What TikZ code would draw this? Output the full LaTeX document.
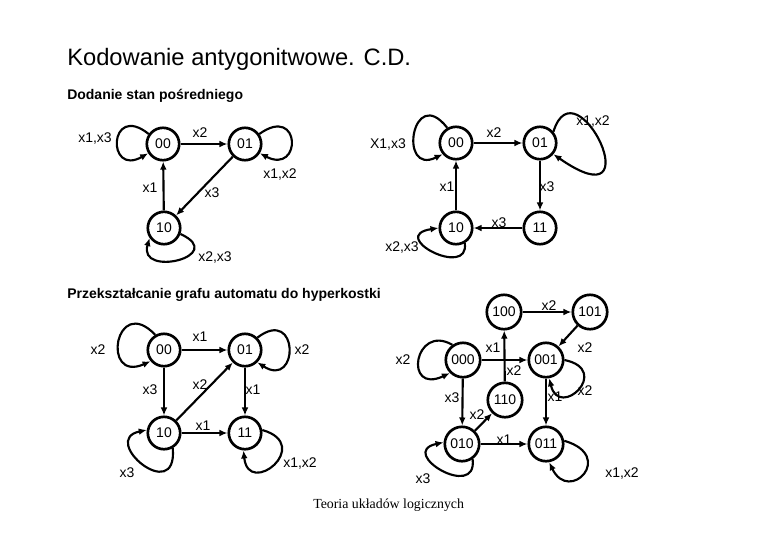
\documentclass[tikz,border=0pt]{standalone}
\usepackage{fontspec}
\setmainfont{Liberation Sans}
\newfontfamily\footserif{Liberation Serif}
\usetikzlibrary{arrows.meta}
\tikzset{
  >={Latex[length=6pt,width=5pt]},
  state/.style={circle,draw,line width=2pt,minimum size=24.3pt,inner sep=0pt,font=\fontsize{10.5}{12}\selectfont},
  state3/.style={state,minimum size=25.8pt},
  trans/.style={->,line width=1.6pt},
  lbl/.style={font=\fontsize{10.5}{12}\selectfont,inner sep=0pt},
  heading/.style={font=\bfseries\fontsize{10.5}{12}\selectfont,anchor=base west,inner sep=0pt},
  title/.style={font=\fontsize{17.8}{20}\selectfont,anchor=base west,inner sep=0pt},
  footer/.style={font=\footserif\fontsize{10.4}{12}\selectfont,anchor=base west,inner sep=0pt}
}
\begin{document}
\begin{tikzpicture}[x=.75pt,y=-.75pt]
  \useasboundingbox (0,0) rectangle (780,540);
  \node[title] (ttl) at (67,65) {Kodowanie antygonitwowe. C.D.};
  \node[heading] (hA) at (67,99) {Dodanie stan pośredniego};
  \node[heading] (hB) at (67,298) {Przekształcanie grafu automatu do hyperkostki};
  \node[footer] (foot) at (313,508) {Teoria układów logicznych};

  % dodanie stanu: graf wyjsciowy
  \node[state] (a00) at (163,144) {00};
  \node[state] (a01) at (245,144) {01};
  \node[state] (a10) at (164,228) {10};
  \draw[trans] (a00) -- (a01);
  \draw[trans] (a10) -- (a00);
  \draw[trans] (a01) -- (a10);
  \draw[trans] (a00.145) .. controls +(-40,-32) and +(-42,24) .. (a00.212);
  \draw[trans] (a01.35) .. controls +(42,-30) and +(42,22) .. (a01.328);
  \draw[trans] (a10.340) .. controls +(48,22) and +(-12,40) .. (a10.215);
  \node[lbl] (la1) at (95,139) {x1,x3};
  \node[lbl] (la2) at (200,133) {x2};
  \node[lbl] (la3) at (280,175) {x1,x2};
  \node[lbl] (la4) at (150,188) {x1};
  \node[lbl] (la5) at (212,193) {x3};
  \node[lbl] (la6) at (215,257) {x2,x3};

  % dodanie stanu: graf ze stanem 11
  \node[state] (b00) at (456,143) {00};
  \node[state] (b01) at (540,143) {01};
  \node[state] (b10) at (456,228) {10};
  \node[state] (b11) at (540,228) {11};
  \draw[trans] (b00) -- (b01);
  \draw[trans] (b01) -- (b11);
  \draw[trans] (b11) -- (b10);
  \draw[trans] (b10) -- (b00);
  \draw[trans] (b00.120) .. controls +(-35,-45) and +(-45,22) .. (b00.220);
  \draw[trans] (b01.40) .. controls +(22,-72) and +(102,71) .. (b01.320);
  \draw[trans] (b10.300) .. controls +(5,36) and +(-52,8) .. (b10.180);
  \node[lbl] (lb1) at (388,145) {X1,x3};
  \node[lbl] (lb2) at (494,133) {x2};
  \node[lbl] (lb3) at (593,122) {x1,x2};
  \node[lbl] (lb4) at (447,187) {x1};
  \node[lbl] (lb5) at (547,187) {x3};
  \node[lbl] (lb6) at (499,223) {x3};
  \node[lbl] (lb7) at (402,247) {x2,x3};

  % hiperkostka: dwa bity
  \node[state] (c00) at (164,350) {00};
  \node[state] (c01) at (245,350) {01};
  \node[state] (c10) at (164,433) {10};
  \node[state] (c11) at (245,433) {11};
  \draw[trans] (c00) -- (c01);
  \draw[trans] (c00) -- (c10);
  \draw[trans] (c10) -- (c01);
  \draw[trans] (c01) -- (c11);
  \draw[trans] (c10) -- (c11);
  \draw[trans] (c00.120) .. controls +(-40,-42) and +(-50,22) .. (c00.220);
  \draw[trans] (c01.45) .. controls +(42,-32) and +(42,27) .. (c01.315);
  \draw[trans] (c10.300) .. controls +(5,58) and +(-48,10) .. (c10.170);
  \draw[trans] (c11.10) .. controls +(52,15) and +(5,48) .. (c11.265);
  \node[lbl] (lc1) at (98,350) {x2};
  \node[lbl] (lc2) at (200,337) {x1};
  \node[lbl] (lc3) at (302,350) {x2};
  \node[lbl] (lc4) at (150,390) {x3};
  \node[lbl] (lc5) at (200,385) {x2};
  \node[lbl] (lc6) at (253,390) {x1};
  \node[lbl] (lc7) at (203,426) {x1};
  \node[lbl] (lc8) at (127,473) {x3};
  \node[lbl] (lc9) at (300,463) {x1,x2};

  % hiperkostka: trzy bity
  \node[state3] (d100) at (504,312) {100};
  \node[state3] (d101) at (590,312) {101};
  \node[state3] (d000) at (463,360) {000};
  \node[state3] (d001) at (546,360) {001};
  \node[state3] (d110) at (505,400) {110};
  \node[state3] (d010) at (462,444) {010};
  \node[state3] (d011) at (546,444) {011};
  \draw[trans] (d100) -- (d101);
  \draw[trans] (d101) -- (d001);
  \draw[trans] (d000) -- (d001);
  \draw[trans] (d000) -- (d010);
  \draw[trans] (d010) -- (d110);
  \draw[trans] (d010) -- (d011);
  \draw[trans] (d001) -- (d011);
  \draw[trans] (d110) -- (d100);
  \draw[trans] (d000.125) .. controls +(-38,-22) and +(-47,22) .. (d000.225);
  \draw[trans] (d001.0) .. controls +(48,10) and +(10,42) .. (d001.280);
  \draw[trans] (d010.305) .. controls +(5,42) and +(-47,10) .. (d010.175);
  \draw[trans] (d011.10) .. controls +(52,15) and +(20,42) .. (d011.280);
  \node[lbl] (ld1) at (549,306) {x2};
  \node[lbl] (ld2) at (493,348) {x1};
  \node[lbl] (ld3) at (514,371) {x2};
  \node[lbl] (ld4) at (585,348) {x2};
  \node[lbl] (ld5) at (585,391) {x2};
  \node[lbl] (ld6) at (555,397) {x1};
  \node[lbl] (ld7) at (452,398) {x3};
  \node[lbl] (ld8) at (477,415) {x2};
  \node[lbl] (ld9) at (504,440) {x1};
  \node[lbl] (ld10) at (403,360) {x2};
  \node[lbl] (ld11) at (423,479) {x3};
  \node[lbl] (ld12) at (622,473) {x1,x2};
\end{tikzpicture}
\end{document}
